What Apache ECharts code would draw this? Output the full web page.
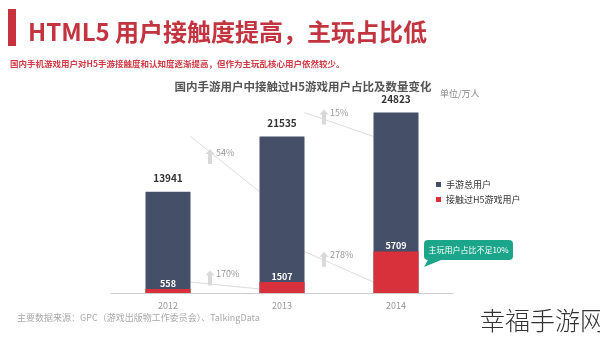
<!DOCTYPE html>
<html><head><meta charset="utf-8">
<script src="https://cdn.jsdelivr.net/npm/echarts@6/dist/echarts.min.js"></script>
<style>html,body{margin:0;padding:0;background:#fff}#c{width:600px;height:337px}</style>
</head><body><div id="c"></div>
<script>
const categories = ['2012', '2013', '2014'];
const totalUsers = [13941, 21535, 24823];
const h5Users = [558, 1507, 5709];
const seriesNames = ['手游总用户', '接触过H5游戏用户'];
const FONT = '"Noto Sans CJK SC","Noto Sans",sans-serif';

const chart = echarts.init(document.getElementById('c'));
const BW = 45;
const legendText = { fontFamily: FONT, fontSize: 9, color: '#333' };
chart.setOption({
  animation: false,
  backgroundColor: '#fff',
  title: [
    { text: 'HTML5 用户接触度提高，主玩占比低', left: 23, top: 15,
      textStyle: { fontFamily: FONT, fontSize: 24, fontWeight: 'bold', color: '#c2343f' } },
    { text: '国内手机游戏用户对H5手游接触度和认知度逐渐提高，但作为主玩乱核心用户依然较少。', left: 5, top: 55,
      textStyle: { fontFamily: FONT, fontSize: 8.5, fontWeight: 'bold', color: '#cf3a44' } },
    { text: '国内手游用户中接触过H5游戏用户占比及数量变化', left: 298, textAlign: 'center', top: 76,
      textStyle: { fontFamily: FONT, fontSize: 11.5, fontWeight: 'bold', color: '#555' } },
    { text: '单位/万人', left: 435, top: 84,
      textStyle: { fontFamily: FONT, fontSize: 9, fontWeight: 'normal', color: '#888' } },
    { text: '主要数据来源：GPC（游戏出版物工作委员会）、TalkingData', left: 12, top: 308,
      textStyle: { fontFamily: FONT, fontSize: 9, fontWeight: 'normal', color: '#aaa' } },
    { text: '幸福手游网', left: 475, top: 303,
      textStyle: { fontFamily: FONT, fontSize: 25, fontWeight: 300, color: '#333' } }
  ],
  legend: [
    { orient: 'vertical', left: 436, top: 180, padding: 0, icon: 'rect', itemWidth: 5, itemHeight: 5,
      data: [seriesNames[0]], textStyle: legendText },
    { orient: 'vertical', left: 436, top: 195, padding: 0, icon: 'rect', itemWidth: 5, itemHeight: 5,
      data: [seriesNames[1]], textStyle: legendText }
  ],
  grid: { left: 111, right: 147, top: 75, bottom: 44 },
  xAxis: {
    type: 'category', data: categories,
    axisLine: { lineStyle: { color: '#ccc' } },
    axisTick: { lineStyle: { color: '#ccc' }, length: 3 },
    axisLabel: { fontFamily: FONT, fontSize: 9, color: '#999', margin: 8 }
  },
  yAxis: { type: 'value', min: 0, max: 30000, show: false, splitLine: { show: false } },
  series: [
    { name: seriesNames[0], type: 'bar', data: totalUsers, barWidth: BW,
      itemStyle: { color: '#454f68' },
      label: { show: true, position: 'top', distance: 8, fontFamily: FONT, fontSize: 10, fontWeight: 'bold', color: '#333' } },
    { name: seriesNames[1], type: 'bar', data: h5Users, barWidth: BW, barGap: '-100%',
      itemStyle: { color: '#d8313b' },
      label: { show: true, position: 'top', distance: 1, fontFamily: FONT, fontSize: 9, fontWeight: 'bold', color: '#fff' } }
  ]
});

// decorative trend lines, growth arrows and callout, positioned from the data
const g = [];
const px = (i, v) => chart.convertToPixel({ seriesIndex: 0 }, [i, v]);
function addGrowth(arr, i) {
  const a = px(i, arr[i + 1]), b = px(i + 1, arr[i]);
  const x1 = a[0] + BW / 2, y1 = a[1], x2 = b[0] - BW / 2, y2 = b[1];
  g.push({ type: 'line', shape: { x1, y1, x2, y2 }, style: { stroke: '#dcdcdc', lineWidth: 1 }, silent: true });
  const gx = (a[0] + b[0]) / 2, my = (y1 + y2) / 2;
  const ax = gx - 15, at = my - 15, ab = my;
  g.push({ type: 'polygon', shape: { points: [[ax, at], [ax + 4.5, at + 5], [ax + 2, at + 5], [ax + 2, ab], [ax - 2, ab], [ax - 2, at + 5], [ax - 4.5, at + 5]] },
    style: { fill: '#d9d9d9' }, silent: true });
  const pct = Math.floor((arr[i + 1] / arr[i] - 1) * 100) + '%';
  g.push({ type: 'text', x: gx - 9, y: my - 12, style: { text: pct, fontFamily: FONT, fontSize: 9, fill: '#999', verticalAlign: 'middle' }, silent: true });
}
for (let i = 0; i < categories.length - 1; i++) { addGrowth(totalUsers, i); addGrowth(h5Users, i); }

// callout
g.push({ type: 'polygon', shape: { points: [[429, 258], [446, 258], [424, 267]] }, style: { fill: '#1ba58b' }, silent: true });
g.push({ type: 'rect', shape: { x: 424, y: 240, width: 89, height: 20, r: 4 }, style: { fill: '#1ba58b' }, silent: true });
g.push({ type: 'text', x: 468.5, y: 250, style: { text: '主玩用户占比不足10%', fontFamily: FONT, fontSize: 8, fill: '#fff', align: 'center', verticalAlign: 'middle' }, silent: true });
// title accent bar
g.push({ type: 'rect', shape: { x: 8, y: 9, width: 8, height: 37 }, style: { fill: '#c8323c' }, silent: true });

chart.setOption({ graphic: g });
</script></body></html>
